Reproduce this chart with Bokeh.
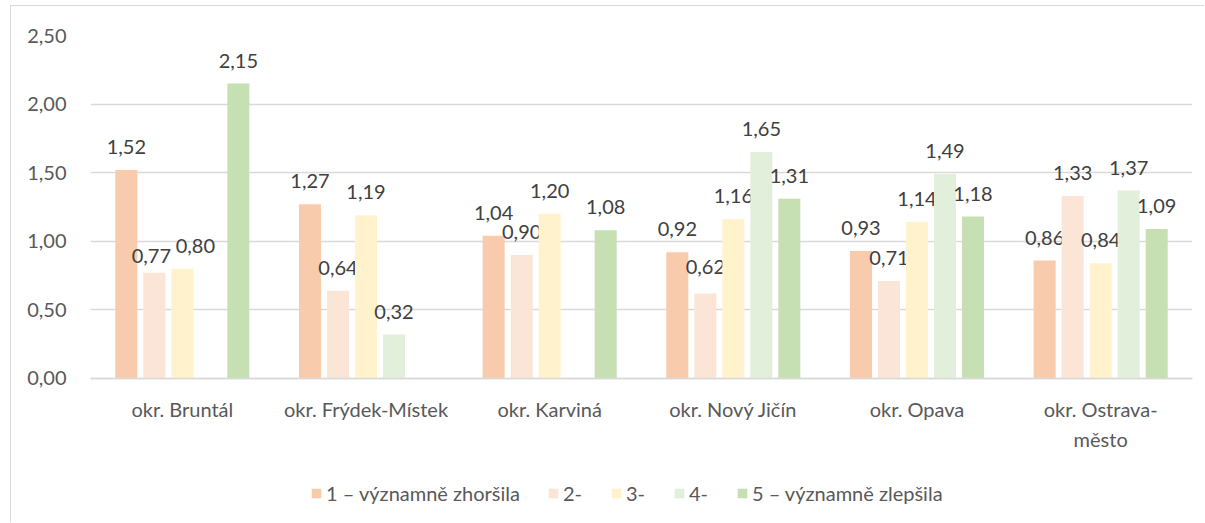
import math
from bokeh.plotting import figure
from bokeh.models import ColumnDataSource, FactorRange, FixedTicker, Legend, LegendItem, Range1d
from bokeh.transform import dodge
from bokeh.core.properties import value
from bokeh.embed import file_html
from bokeh.resources import INLINE

districts = ["okr. Bruntál", "okr. Frýdek-Místek", "okr. Karviná", "okr. Nový Jičín", "okr. Opava", "okr. Ostrava-\nměsto"]
series_names = ["1 – významně zhoršila", "2-", "3-", "4-", "5 – významně zlepšila"]
s1 = [1.52, 1.27, 1.04, 0.92, 0.93, 0.86]
s2 = [0.77, 0.64, 0.90, 0.62, 0.71, 1.33]
s3 = [0.80, 1.19, 1.20, 1.16, 1.14, 0.84]
s4 = [float("nan"), 0.32, float("nan"), 1.65, 1.49, 1.37]
s5 = [2.15, float("nan"), 1.08, 1.31, 1.18, 1.09]
y_ticks = [0.0, 0.5, 1.0, 1.5, 2.0, 2.5]
y_tick_labels = ["0,00", "0,50", "1,00", "1,50", "2,00", "2,50"]

series = [s1, s2, s3, s4, s5]
colors = ["#F8CBAD", "#FBE5D6", "#FFF2CC", "#E2EFDA", "#C6E0B4"]
offsets = [-0.305, -0.1525, 0.0, 0.1525, 0.305]
# label nudges (series index, district index) -> (dx px, dy px), mimicking the reference's collision avoidance
nudges = {(1, 0): (-3, 6), (2, 0): (13, 0), (1, 3): (0, -3)}
FONT = "Lato"
GREY = "#595959"

# the frame runs down to the bottom of the chart; the area below 0 holds the category labels and the legend
p = figure(x_range=FactorRange(factors=districts, range_padding=0), y_range=Range1d(-1.0423, 2.5),
           width=1194, height=517, output_backend="svg", toolbar_location=None,
           min_border_left=79, min_border_right=13, min_border_top=29, min_border_bottom=2)
p.margin = (5, 0, 0, 10)
p.styles = {"border-left": "1px solid #D9D9D9", "border-top": "1px solid #D9D9D9"}
p.outline_line_color = None
p.background_fill_color = "white"
p.border_fill_color = "white"

items = []
for si, (vals, col, off, name) in enumerate(zip(series, colors, offsets, series_names)):
    src = ColumnDataSource(dict(x=districts, top=vals))
    r = p.vbar(x=dodge("x", off, range=p.x_range), top="top", bottom=0, width=0.12, source=src,
               fill_color=col, line_color=None)
    items.append(LegendItem(label=name, renderers=[r]))
    lx, lv, lt, dx, dy = [], [], [], [], []
    for di, (d, v) in enumerate(zip(districts, vals)):
        if math.isnan(v):
            continue
        nx, ny = nudges.get((si, di), (0, 0))
        lx.append(d); lv.append(v); lt.append(f"{v:.2f}".replace(".", ","))
        dx.append(nx); dy.append(-23 + ny)
    lsrc = ColumnDataSource(dict(x=lx, y=lv, t=lt, dx=dx, dy=dy))
    p.text(x=dodge("x", off, range=p.x_range), y="y", text="t", source=lsrc,
           x_offset="dx", y_offset="dy",
           text_align="center", text_baseline="middle",
           text_font=value(FONT), text_font_size="20px", text_color="#404040")

p.xgrid.grid_line_color = None
p.ygrid.grid_line_color = "#D9D9D9"
p.ygrid.grid_line_width = 1.3
p.yaxis.ticker = FixedTicker(ticks=y_ticks)
p.yaxis.major_label_overrides = {t: l for t, l in zip(y_ticks, y_tick_labels)}
p.yaxis.axis_line_color = None
p.yaxis.major_tick_line_color = None
p.yaxis.minor_tick_line_color = None
p.yaxis.major_label_standoff = 18
p.yaxis.major_label_text_font = FONT
p.yaxis.major_label_text_font_size = "20px"
p.yaxis.major_label_text_color = GREY

p.xaxis.fixed_location = 0
p.xaxis.axis_line_color = "#D9D9D9"
p.xaxis.axis_line_width = 1.3
p.xaxis.major_tick_line_color = None
p.xaxis.minor_tick_line_color = None
p.xaxis.major_label_standoff = 13
p.xaxis.major_label_text_font = FONT
p.xaxis.major_label_text_font_size = "20px"
p.xaxis.major_label_text_color = GREY
p.xaxis.major_label_text_line_height = 1.25

legend = Legend(items=items, orientation="horizontal", location=(220, 16),
                padding=0, margin=0, spacing=27, label_standoff=4,
                glyph_width=12, glyph_height=12, border_line_color=None,
                background_fill_alpha=0,
                label_text_font=FONT, label_text_font_size="20px", label_text_color=GREY)
p.add_layout(legend)

open("out.html", "w").write(file_html(p, INLINE))
